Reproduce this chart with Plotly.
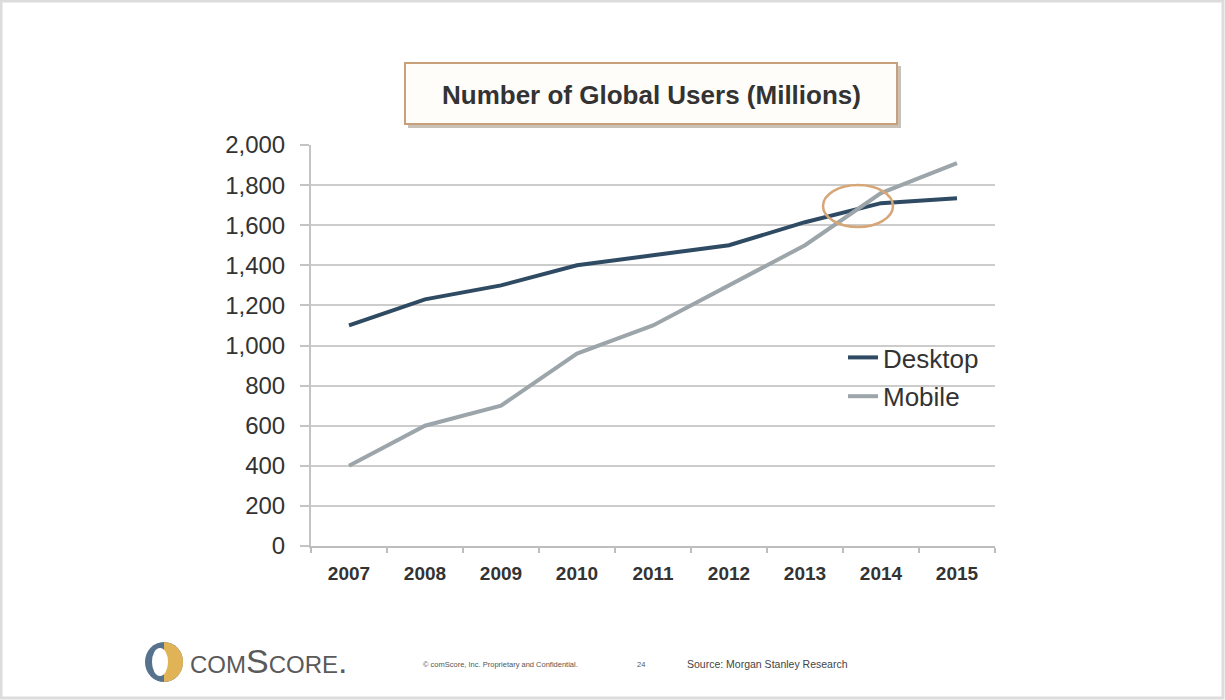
import math
import plotly.graph_objects as go

years = ["2007", "2008", "2009", "2010", "2011", "2012", "2013", "2014", "2015"]
desktop = [1100, 1230, 1300, 1400, 1450, 1500, 1615, 1710, 1735]
mobile = [400, 600, 700, 960, 1100, 1300, 1500, 1760, 1910]
y_ticks = [0, 200, 400, 600, 800, 1000, 1200, 1400, 1600, 1800, 2000]

W, H = 1225, 700
L, R, T, B = 311, 995, 145, 546  # plot area in pixels


def px(x):
    return (x - L) / (R - L)


def py(y):
    return (B - y) / (B - T)


FONT = "Liberation Sans, Arial, sans-serif"

fig = go.Figure()
fig.add_trace(go.Scatter(x=years, y=desktop, mode="lines", name="Desktop",
                         legendgroup="d",
                         line=dict(color="#2f4b63", width=4)))
fig.add_trace(go.Scatter(x=years, y=mobile, mode="lines", name="Mobile",
                         legendgroup="m",
                         line=dict(color="#9ca5aa", width=4)))

shapes = []
# outer frame
shapes.append(dict(type="rect", xref="paper", yref="paper",
                   x0=px(1), x1=px(W - 2), y0=py(H - 2), y1=py(1),
                   line=dict(color="#dcdcdc", width=3), layer="below"))
# title box shadow + box
shapes.append(dict(type="rect", xref="paper", yref="paper",
                   x0=px(408), x1=px(901), y0=py(128), y1=py(66),
                   fillcolor="#c9c2b8", line=dict(width=0), layer="above"))
shapes.append(dict(type="rect", xref="paper", yref="paper",
                   x0=px(405), x1=px(897), y0=py(124), y1=py(63),
                   fillcolor="#fffdf9", line=dict(color="#c8a07a", width=2), layer="above"))
# highlight ellipse
shapes.append(dict(type="circle", xref="paper", yref="paper",
                   x0=px(823), x1=px(893), y0=py(227), y1=py(185),
                   line=dict(color="#d6a676", width=2.5)))
# logo: blue ring, gold right half, white inner notch
cx, cy, rx, ry = 164, 662, 19, 20
shapes.append(dict(type="circle", xref="paper", yref="paper",
                   x0=px(cx - rx), x1=px(cx + rx), y0=py(cy + ry), y1=py(cy - ry),
                   fillcolor="#56728c", line=dict(width=0)))
half = [(cx + rx * math.cos(a), cy + ry * math.sin(a))
        for a in [math.pi * (-0.5 + i / 24) for i in range(25)]]
path = "M " + " L ".join(f"{px(x)},{py(y)}" for x, y in half) + " Z"
shapes.append(dict(type="path", xref="paper", yref="paper", path=path,
                   fillcolor="#e0b357", line=dict(width=0)))
shapes.append(dict(type="circle", xref="paper", yref="paper",
                   x0=px(152), x1=px(168), y0=py(676), y1=py(648),
                   fillcolor="#ffffff", line=dict(width=0)))
fig.update_layout(shapes=shapes)

annotations = [
    dict(text="<b>Number of Global Users (Millions)</b>", xref="paper", yref="paper",
         x=px(651), y=py(95), xanchor="center", yanchor="middle", showarrow=False,
         font=dict(family=FONT, size=26, color="#333333")),
    dict(text="comScore.", xref="paper", yref="paper",
         x=px(188), y=py(661), xanchor="left", yanchor="middle", showarrow=False,
         font=dict(family=FONT, size=34, color="#5a5a5a", variant="small-caps")),
    dict(text="© comScore, Inc. Proprietary and Confidential.", xref="paper", yref="paper",
         x=px(421), y=py(664), xanchor="left", yanchor="middle", showarrow=False,
         font=dict(family=FONT, size=7.5, color="#555555")),
    dict(text="24", xref="paper", yref="paper",
         x=px(641), y=py(664), xanchor="center", yanchor="middle", showarrow=False,
         font=dict(family=FONT, size=7.5, color="#555555")),
    dict(text="Source: Morgan Stanley Research", xref="paper", yref="paper",
         x=px(685), y=py(664), xanchor="left", yanchor="middle", showarrow=False,
         font=dict(family=FONT, size=10.5, color="#444444")),
]

fig.update_layout(
    width=W, height=H,
    margin=dict(l=L, r=W - R, t=T, b=H - B, pad=0),
    paper_bgcolor="white", plot_bgcolor="white",
    annotations=annotations,
    showlegend=True,
    legend=dict(x=px(843), y=py(334), xanchor="left", yanchor="top",
                bgcolor="rgba(0,0,0,0)", tracegroupgap=2, itemwidth=30,
                font=dict(family=FONT, size=26, color="#333333")),
    xaxis=dict(type="category", range=[-0.5, 8.5], tickson="boundaries",
               ticks="outside", ticklen=5,
               tickcolor="#bdbdbd", tickwidth=1.5,
               showline=True, linecolor="#bdbdbd", linewidth=2,
               showgrid=False, zeroline=False,
               tickfont=dict(family=FONT, size=19, color="#333333"),
               tickprefix="<b>", ticksuffix="</b>", ticklabelstandoff=9),
    yaxis=dict(range=[0, 2000], tickvals=y_ticks, tickformat=",d",
               ticks="outside", ticklen=9, tickcolor="#c4c4c4", tickwidth=2,
               showline=True, linecolor="#c4c4c4", linewidth=2,
               showgrid=True, gridcolor="#cccccc", gridwidth=2, zeroline=False,
               tickfont=dict(family=FONT, size=24, color="#333333"),
               ticklabelstandoff=10),
)

fig.write_html("out.html", config={"displayModeBar": False},
               post_script="document.body.style.margin='0px';")
